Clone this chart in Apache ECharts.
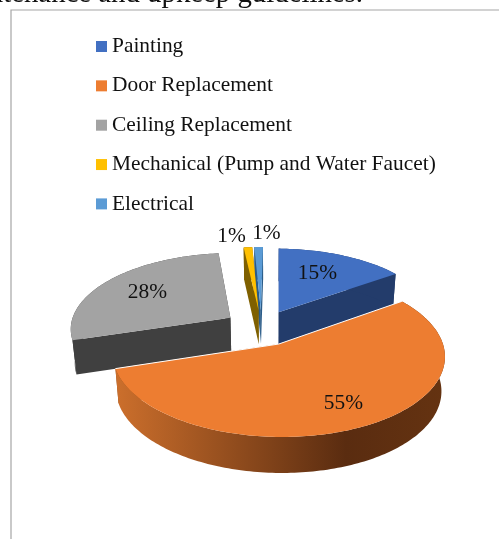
<!DOCTYPE html>
<html>
<head>
<meta charset="utf-8">
<style>
  html, body { margin: 0; padding: 0; background: #fff; overflow: hidden; }
  #chart { width: 499px; height: 539px; }
</style>
<script src="https://cdn.jsdelivr.net/npm/echarts@6/dist/echarts.min.js"></script>
</head>
<body>
<div id="chart"></div>
<script>
// Repair cost shares
const categories = ['Painting', 'Door Replacement', 'Ceiling Replacement', 'Mechanical (Pump and Water Faucet)', 'Electrical'];
const shares = [15, 55, 28, 1, 1];

const topColors = ['#4270c2', '#ed7d31', '#a3a3a3', '#ffc000', '#5b9bd5'];
const sideColors = ['#233c6b', '#8a4a1c', '#404040', '#7f6000', '#2b5c88'];
const paintOrder = [3, 5, 4, 2, 1];      // later slices cover earlier ones
const labelRadius = [0.57, 0.8, 0.62, 1.15, 1.15];
const labelNudge = [[1, -5], [-2, -5], [-6, -1], [-15, -3], [8, -5]];

// Tilted, exploded pie projected with a mild perspective
const view = { x0: 261.5, y0: 327.5, rx: 160, ry: 75.8, depth: 34, depthGrow: 0.3, persp: 0.133, squeeze: 0.02, vanishX: 270, explode: 0.236, leanX: 2, leanY: 0.008 };
const serif = '"Liberation Serif", "Times New Roman", serif';
const total = shares.reduce((a, b) => a + b, 0);

function project(wx, wy, z) {
  const s = 1 / (1 + view.persp * wy);
  let x = view.x0 + view.rx * wx * s + view.leanX * wy;
  const y = view.y0 - view.ry * wy * s + view.depth * z * (1 + view.depthGrow * (s - 1)) + view.leanY * (x - view.x0);
  x += (view.vanishX - x) * view.squeeze * z;
  return [x, y];
}
function sliceBounds(i) {
  const before = shares.slice(0, i).reduce((a, b) => a + b, 0);
  return [before / total * 2 * Math.PI, (before + shares[i]) / total * 2 * Math.PI];
}
function worldPoint(i, angle, r) {
  const [a0, a1] = sliceBounds(i);
  const mid = (a0 + a1) / 2;
  return [view.explode * Math.sin(mid) + r * Math.sin(angle), view.explode * Math.cos(mid) + r * Math.cos(angle)];
}
function arcAngles(a0, a1) {
  const n = Math.max(2, Math.ceil((a1 - a0) / 0.02));
  return Array.from({ length: n + 1 }, (_, k) => a0 + (a1 - a0) * k / n);
}

function renderSlice(i) {
  return function (params, api) {
    const share = api.value(0);
    const [a0, a1] = sliceBounds(i);
    const angles = arcAngles(a0, a1);
    const apex = worldPoint(i, a0, 0);
    const at = (a, z) => { const w = worldPoint(i, a, 1); return project(w[0], w[1], z); };
    const hub = z => project(apex[0], apex[1], z);
    const isDoor = categories[i] === 'Door Replacement';

    const rimTop = angles.map(a => at(a, 0));
    const rimBottom = angles.map(a => at(a, 1));
    const xs = rimTop.map(p => p[0]);
    const rimFill = isDoor
      ? { type: 'linear', global: true, x: Math.min(...xs), y: 0, x2: Math.max(...xs), y2: 0,
          colorStops: [{ offset: 0, color: '#cc6f2c' }, { offset: 0.7, color: '#5a2c10' }, { offset: 1, color: '#653311' }] }
      : sideColors[i];

    const children = [
      { type: 'polygon', shape: { points: [hub(0), at(a0, 0), at(a0, 1), hub(1)] }, style: { fill: sideColors[i] } },
      { type: 'polygon', shape: { points: [hub(0), at(a1, 0), at(a1, 1), hub(1)] }, style: { fill: sideColors[i] } },
      { type: 'polygon', shape: { points: rimTop.concat(rimBottom.slice().reverse()) }, style: { fill: rimFill } },
      { type: 'polygon', shape: { points: [hub(0)].concat(rimTop) }, style: { fill: topColors[i] } }
    ];
    // Thin light seam along the two straight edges of the largest slice
    if (isDoor) {
      children.push({ type: 'polyline', shape: { points: [at(a0, 0), hub(0), at(a1, 0)] }, style: { stroke: '#fff', lineWidth: 1, fill: 'none' } });
    }

    const mid = (a0 + a1) / 2;
    const lw = worldPoint(i, mid, labelRadius[i]);
    const lp = project(lw[0], lw[1], 0);
    children.push({
      type: 'text',
      x: lp[0] + labelNudge[i][0],
      y: lp[1] + labelNudge[i][1],
      style: { text: Math.round(share / total * 100) + '%', fill: '#111', font: '21.4px ' + serif, textAlign: 'center', textVerticalAlign: 'middle' }
    });
    return { type: 'group', children };
  };
}

const chart = echarts.init(document.getElementById('chart'), null, { renderer: 'canvas' });
chart.setOption({
  animation: false,
  backgroundColor: '#fff',
  legend: {
    data: categories,
    orient: 'vertical',
    left: 91,
    top: 31,
    icon: 'rect',
    itemWidth: 11,
    itemHeight: 11,
    itemGap: 19.3 - 0.95,
    selectedMode: false,
    textStyle: { fontFamily: serif, fontSize: 21.4, color: '#111', lineHeight: 20 }
  },
  graphic: [
    { type: 'text', x: 363, y: -20, silent: true,
      style: { text: 'maintenance and upkeep guidelines.', font: '28.8px ' + serif, fill: '#111', textAlign: 'right' } },
    { type: 'polyline', silent: true,
      shape: { points: [[11, 545], [11, 10], [505, 10]] },
      style: { stroke: '#a6a6a6', lineWidth: 1.2, fill: 'none' } }
  ],
  series: categories.map((name, i) => ({
    type: 'custom',
    name,
    coordinateSystem: 'none',
    z: paintOrder[i] + 2,
    itemStyle: { color: topColors[i] },
    renderItem: renderSlice(i),
    data: [[shares[i]]]
  }))
});
</script>
</body>
</html>
